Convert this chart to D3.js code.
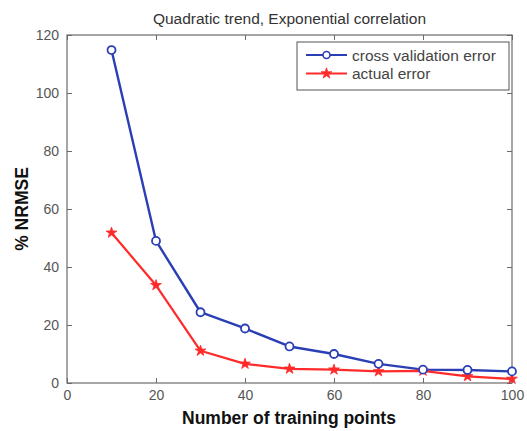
<!DOCTYPE html>
<html>
<head>
<meta charset="utf-8">
<script src="https://cdn.jsdelivr.net/npm/d3@7"></script>
<style>
  html, body { margin: 0; padding: 0; background: #fff; }
  svg { display: block; font-family: "Liberation Sans", Arial, sans-serif; }
</style>
</head>
<body>
<svg id="chart" width="527" height="431"></svg>
<script>
// Training set sizes and the two error curves (% NRMSE)
const trainingPoints = [10, 20, 30, 40, 50, 60, 70, 80, 90, 100];
const crossValidationError = [114.8, 49.0, 24.4, 18.8, 12.6, 10.0, 6.6, 4.6, 4.5, 4.0];
const actualError = [51.8, 33.7, 11.1, 6.6, 4.9, 4.6, 4.0, 4.2, 2.3, 1.4];
const xTicks = [0, 20, 40, 60, 80, 100];
const yTicks = [0, 20, 40, 60, 80, 100, 120];

const svg = d3.select("#chart");
const plot = { left: 67, right: 512, top: 35, bottom: 383 };

const x = d3.scaleLinear().domain([0, 100]).range([plot.left, plot.right]);
const y = d3.scaleLinear().domain([0, 120]).range([plot.bottom, plot.top]);

const axisColor = "#6b6b6b";
const tickTextColor = "#555";

// Plot frame
svg.append("rect")
  .attr("x", plot.left).attr("y", plot.top)
  .attr("width", plot.right - plot.left).attr("height", plot.bottom - plot.top)
  .attr("fill", "none").attr("stroke", axisColor).attr("stroke-width", 1.2);

function styleAxis(g) {
  g.select(".domain").remove();
  g.selectAll(".tick line").attr("stroke", axisColor).attr("stroke-width", 1);
  g.selectAll(".tick text").attr("fill", tickTextColor)
    .style("font-size", "14px").style("font-family", "Liberation Sans, Arial, sans-serif");
}

// Inward ticks on all four sides
svg.append("g").attr("transform", `translate(0,${plot.bottom})`)
  .call(d3.axisBottom(x).tickValues(xTicks).tickSizeInner(-5).tickSizeOuter(0).tickPadding(7))
  .call(styleAxis);
svg.append("g").attr("transform", `translate(0,${plot.top})`)
  .call(d3.axisTop(x).tickValues(xTicks).tickSizeInner(-5).tickSizeOuter(0).tickFormat(""))
  .call(styleAxis);
svg.append("g").attr("transform", `translate(${plot.left},0)`)
  .call(d3.axisLeft(y).tickValues(yTicks).tickSizeInner(-5).tickSizeOuter(0).tickPadding(8))
  .call(styleAxis);
svg.append("g").attr("transform", `translate(${plot.right},0)`)
  .call(d3.axisRight(y).tickValues(yTicks).tickSizeInner(-5).tickSizeOuter(0).tickFormat(""))
  .call(styleAxis);

// Titles
svg.append("text")
  .attr("x", (plot.left + plot.right) / 2).attr("y", 24)
  .attr("text-anchor", "middle")
  .attr("fill", "#333").style("font-size", "15.5px")
  .text("Quadratic trend, Exponential correlation");

svg.append("text")
  .attr("x", 289).attr("y", 424)
  .attr("text-anchor", "middle")
  .attr("fill", "#111").style("font-size", "17.5px").style("font-weight", "bold")
  .text("Number of training points");

svg.append("text")
  .attr("transform", `translate(28,${(plot.top + plot.bottom) / 2}) rotate(-90)`)
  .attr("text-anchor", "middle")
  .attr("fill", "#111").style("font-size", "17.5px").style("font-weight", "bold")
  .text("% NRMSE");

const blue = "#2b3fb5";
const red = "#ff2a2a";

const line = d3.line().x(d => x(d[0])).y(d => y(d[1]));

const cvData = trainingPoints.map((t, i) => [t, crossValidationError[i]]);
const actData = trainingPoints.map((t, i) => [t, actualError[i]]);

// Cross validation error: line with open circles
svg.append("path").datum(cvData)
  .attr("d", line).attr("fill", "none")
  .attr("stroke", blue).attr("stroke-width", 2.4).attr("stroke-linejoin", "round");

// Actual error: line with star markers
svg.append("path").datum(actData)
  .attr("d", line).attr("fill", "none")
  .attr("stroke", red).attr("stroke-width", 2.2).attr("stroke-linejoin", "round");

const star = d3.symbol().type(d3.symbolStar).size(36);

svg.append("g").selectAll("path").data(actData).join("path")
  .attr("transform", d => `translate(${x(d[0])},${y(d[1])})`)
  .attr("d", star).attr("fill", red).attr("stroke", red).attr("stroke-width", 0.8);

svg.append("g").selectAll("circle").data(cvData).join("circle")
  .attr("cx", d => x(d[0])).attr("cy", d => y(d[1])).attr("r", 4)
  .attr("fill", "#fff").attr("stroke", blue).attr("stroke-width", 1.8);

// Legend
const legend = svg.append("g").attr("transform", "translate(297,42)");
legend.append("rect")
  .attr("width", 212).attr("height", 48)
  .attr("fill", "#fff").attr("stroke", "#555").attr("stroke-width", 1);

const legendItems = [
  { label: "cross validation error", color: blue, marker: "circle" },
  { label: "actual error", color: red, marker: "star" }
];
legendItems.forEach((item, i) => {
  const cy = 13 + i * 18.5;
  legend.append("line")
    .attr("x1", 9).attr("x2", 50).attr("y1", cy).attr("y2", cy)
    .attr("stroke", item.color).attr("stroke-width", 2);
  if (item.marker === "circle") {
    legend.append("circle").attr("cx", 29.5).attr("cy", cy).attr("r", 3.5)
      .attr("fill", "#fff").attr("stroke", item.color).attr("stroke-width", 1.6);
  } else {
    legend.append("path").attr("transform", `translate(29.5,${cy})`)
      .attr("d", star).attr("fill", item.color).attr("stroke", item.color).attr("stroke-width", 0.8);
  }
  legend.append("text")
    .attr("x", 55).attr("y", cy + 5.5)
    .attr("fill", "#444").style("font-size", "15.5px")
    .text(item.label);
});
</script>
</body>
</html>
